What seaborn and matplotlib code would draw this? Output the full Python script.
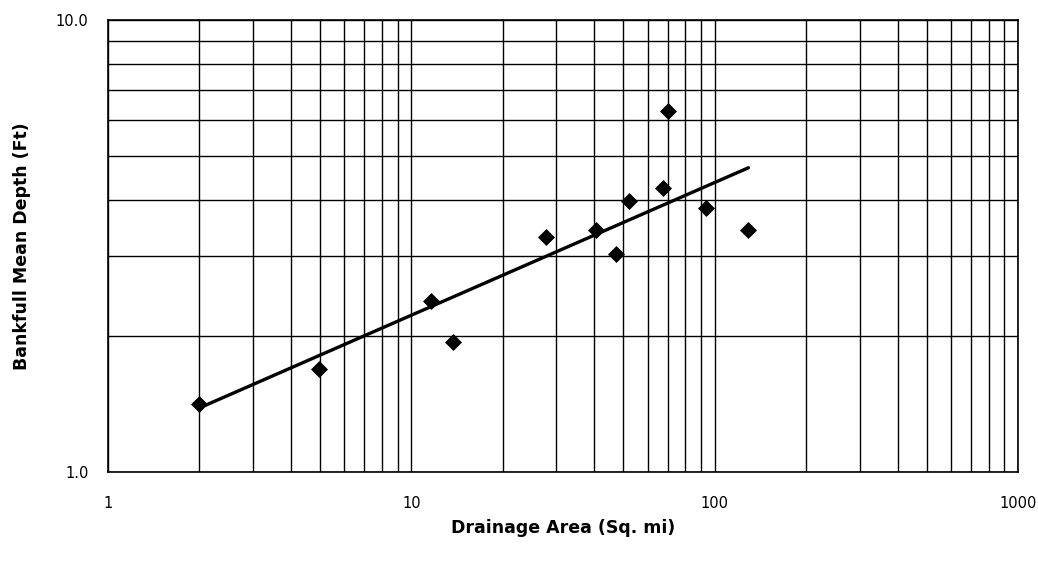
"""Bankfull mean depth vs drainage area (log-log regional curve)."""

import matplotlib
matplotlib.use("Agg")
import matplotlib.pyplot as plt
import matplotlib.ticker as mticker
import pandas as pd
import seaborn as sns

drainage_area = [2.0, 4.95, 11.6, 13.7, 27.7, 40.5, 47.1, 52.0, 67.3, 70.0, 93.4, 129.0]
mean_depth = [1.41, 1.69, 2.39, 1.94, 3.31, 3.43, 3.03, 3.98, 4.25, 6.29, 3.84, 3.43]

# power-law trend line end points
trend_area = [2.0, 129.0]
trend_depth = [1.385, 4.71]

x_ticks = [1, 10, 100, 1000]
x_tick_labels = ["1", "10", "100", "1000"]
y_ticks = [1, 10]
y_tick_labels = ["1.0", "10.0"]

sns.set_style("white")
plt.rcParams["font.family"] = ["DejaVu Sans"]
plt.rcParams["text.color"] = "black"
plt.rcParams["axes.labelcolor"] = "black"
plt.rcParams["xtick.color"] = "black"
plt.rcParams["ytick.color"] = "black"

points = pd.DataFrame({"area": drainage_area, "depth": mean_depth})
trend = pd.DataFrame({"area": trend_area, "depth": trend_depth})

fig = plt.figure(figsize=(10.38, 5.72), dpi=100)
ax = fig.add_axes([0.104, 0.175, 0.877, 0.79])

sns.lineplot(data=trend, x="area", y="depth", color="black", linewidth=2.4,
             ax=ax, zorder=4)
sns.scatterplot(data=points, x="area", y="depth", marker="D", s=75,
                color="black", edgecolor="black", linewidth=0, ax=ax, zorder=5)

ax.set_xscale("log")
ax.set_yscale("log")
ax.set_xlim(1, 1000)
ax.set_ylim(1, 10)

ax.xaxis.set_major_locator(mticker.FixedLocator(x_ticks))
ax.xaxis.set_major_formatter(mticker.FixedFormatter(x_tick_labels))
ax.yaxis.set_major_locator(mticker.FixedLocator(y_ticks))
ax.yaxis.set_major_formatter(mticker.FixedFormatter(y_tick_labels))
ax.xaxis.set_minor_locator(mticker.LogLocator(base=10, subs=range(2, 10)))
ax.yaxis.set_minor_locator(mticker.LogLocator(base=10, subs=range(2, 10)))
ax.xaxis.set_minor_formatter(mticker.NullFormatter())
ax.yaxis.set_minor_formatter(mticker.NullFormatter())

ax.grid(which="both", color="black", linewidth=1.0)
ax.tick_params(axis="both", which="major", direction="out", length=6,
               width=1.0, color="black", labelsize=10.5)
ax.tick_params(axis="x", which="major", pad=11)
ax.tick_params(axis="y", which="major", pad=8)
ax.tick_params(which="minor", length=0)

for spine in ax.spines.values():
    spine.set_color("black")
    spine.set_linewidth(1.2)

ax.set_xlabel("Drainage Area (Sq. mi)", fontsize=12.5, fontweight="bold",
              labelpad=6)
ax.set_ylabel("Bankfull Mean Depth (Ft)", fontsize=12.5, fontweight="bold",
              labelpad=18)

fig.savefig("out.png", dpi=100)
plt.close(fig)
